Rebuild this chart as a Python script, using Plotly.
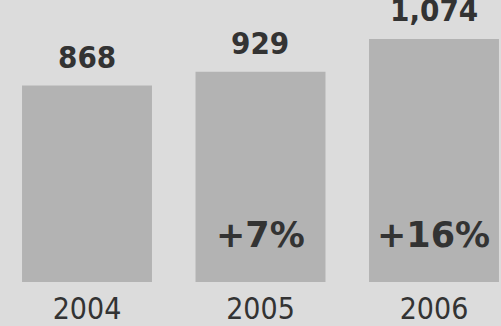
import plotly.graph_objects as go

# Annual totals
years = ["2004", "2005", "2006"]
totals = [868, 929, 1074]

FONT = "DejaVu Sans Condensed, Liberation Sans, sans-serif"
FONT_WIDE = "DejaVu Sans, sans-serif"
TEXT = "#333333"

x = list(range(len(years)))

fig = go.Figure(
    go.Bar(
        x=x,
        y=totals,
        width=0.749,
        marker=dict(color="#b3b3b3", line=dict(width=0)),
        hoverinfo="skip",
    )
)

annotations = []
# value labels above each bar
for xi, v in zip(x, totals):
    annotations.append(dict(
        x=xi, y=v, xref="x", yref="y", text=f"{v:,}",
        showarrow=False, yanchor="bottom", yshift=9,
        font=dict(family=FONT, size=31, color=TEXT, weight="bold"),
    ))
# year-over-year growth inside the bars
for i in range(1, len(totals)):
    g = round((totals[i] / totals[i - 1] - 1) * 100)
    annotations.append(dict(
        x=x[i], y=0, xref="x", yref="y", text=f"+{g}%",
        showarrow=False, yanchor="middle", yshift=47,
        font=dict(family=FONT_WIDE, size=35, color=TEXT, weight="bold"),
    ))

fig.update_layout(
    width=501, height=326,
    margin=dict(l=0, r=0, t=0, b=44, pad=0),
    paper_bgcolor="#dcdcdc", plot_bgcolor="#dcdcdc",
    showlegend=False,
    annotations=annotations,
    xaxis=dict(
        range=[-0.5014, 2.3862], tickmode="array", tickvals=x, ticktext=years,
        showgrid=False, zeroline=False, showline=False, ticks="",
        ticklabelstandoff=6, automargin=False,
        tickfont=dict(family=FONT, size=30, color=TEXT),
        fixedrange=True,
    ),
    yaxis=dict(
        range=[0, 1246], visible=False, showgrid=False, zeroline=False,
        automargin=False, fixedrange=True,
    ),
)

fig.write_html("out.html", config={"displayModeBar": False})
